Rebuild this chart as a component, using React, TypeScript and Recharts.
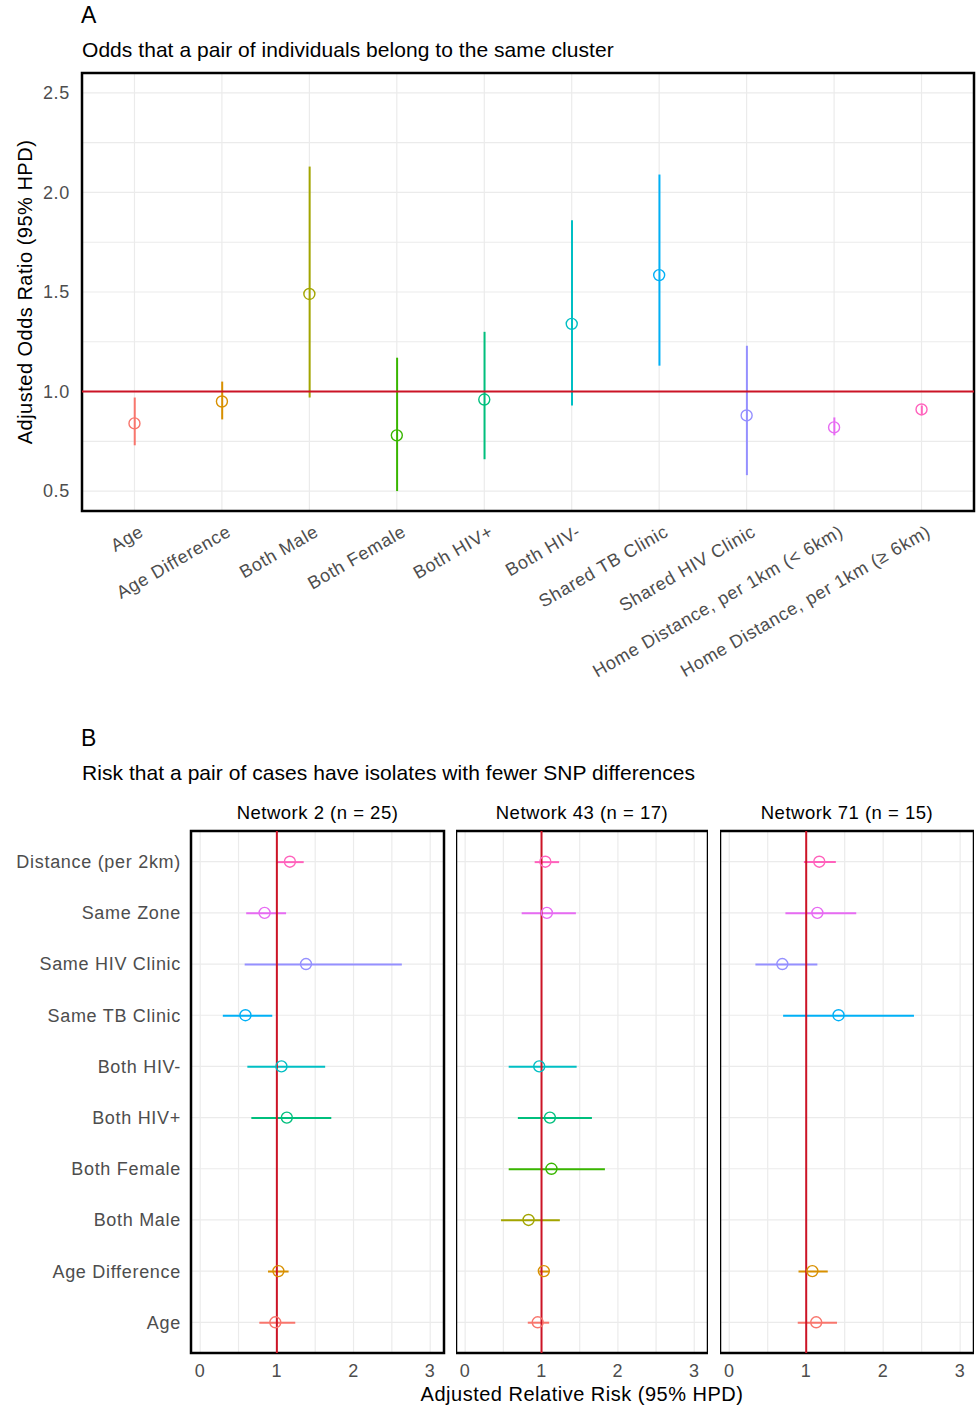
import React from 'react';
import {
  ComposedChart,
  Bar,
  Line,
  Cell,
  XAxis,
  YAxis,
  CartesianGrid,
  ReferenceLine,
  ReferenceArea,
} from 'recharts';

const FONT = '"Liberation Sans", Arial, Helvetica, sans-serif';
const RED = '#cc1426';
const GRID = '#ebebeb';
const TICK = '#4d4d4d';

// Panel A: odds of belonging to the same cluster
const clusterTerms = [
  'Age',
  'Age Difference',
  'Both Male',
  'Both Female',
  'Both HIV+',
  'Both HIV-',
  'Shared TB Clinic',
  'Shared HIV Clinic',
  'Home Distance, per 1km (< 6km)',
  'Home Distance, per 1km (≥ 6km)',
];
const clusterColors = ['#F8766D', '#D89000', '#A3A500', '#39B600', '#00BF7D', '#00BFC4', '#00B0F6', '#9590FF', '#E76BF3', '#FF62BC'];
const clusterOR = [0.84, 0.95, 1.49, 0.78, 0.96, 1.34, 1.585, 0.88, 0.82, 0.91];
const clusterLo = [0.73, 0.86, 0.97, 0.5, 0.66, 0.93, 1.13, 0.58, 0.78, 0.885];
const clusterHi = [0.97, 1.05, 2.13, 1.17, 1.3, 1.86, 2.09, 1.23, 0.87, 0.93];
const oddsTicks = [0.5, 0.75, 1, 1.25, 1.5, 1.75, 2, 2.25, 2.5];

// Panel B: relative risk of fewer SNP differences, one facet per network
const snpTerms = [
  'Distance (per 2km)',
  'Same Zone',
  'Same HIV Clinic',
  'Same TB Clinic',
  'Both HIV-',
  'Both HIV+',
  'Both Female',
  'Both Male',
  'Age Difference',
  'Age',
];
const snpColors = ['#FF62BC', '#E76BF3', '#9590FF', '#00B0F6', '#00BFC4', '#00BF7D', '#39B600', '#A3A500', '#D89000', '#F8766D'];
const net2RR = [1.17, 0.84, 1.38, 0.59, 1.06, 1.13, null, null, 1.02, 0.98];
const net2Lo = [1.0, 0.6, 0.58, 0.295, 0.615, 0.667, null, null, 0.884, 0.771];
const net2Hi = [1.35, 1.12, 2.63, 0.94, 1.63, 1.71, null, null, 1.153, 1.24];
const net43RR = [1.05, 1.07, null, null, 0.97, 1.11, 1.13, 0.83, 1.03, 0.95];
const net43Lo = [0.91, 0.74, null, null, 0.57, 0.69, 0.57, 0.47, 0.97, 0.82];
const net43Hi = [1.23, 1.45, null, null, 1.46, 1.66, 1.83, 1.24, 1.1, 1.1];
const net71RR = [1.17, 1.145, 0.69, 1.42, null, null, null, null, 1.08, 1.13];
const net71Lo = [0.97, 0.73, 0.34, 0.7, null, null, null, null, 0.9, 0.89];
const net71Hi = [1.385, 1.65, 1.145, 2.4, null, null, null, null, 1.28, 1.4];
const networkTitles = ['Network 2 (n = 25)', 'Network 43 (n = 17)', 'Network 71 (n = 15)'];
const rrTicks = [0, 0.5, 1, 1.5, 2, 2.5, 3];

// discrete positions 1..10, with ggplot's 0.6 expansion on either side
const slots = clusterTerms.map((_, i) => i + 1);
const slotDomain = [0.4, 10.6];

type Row = { pos: number; name: string; est: number | null; range: [number, number] | null };

const makeRows = (names: string[], est: (number | null)[], lo: (number | null)[], hi: (number | null)[]): Row[] =>
  names.map((name, i) => ({
    pos: i + 1,
    name,
    est: est[i],
    range: lo[i] == null || hi[i] == null ? null : [lo[i] as number, hi[i] as number],
  }));

const clusterRows = makeRows(clusterTerms, clusterOR, clusterLo, clusterHi);
const networkRows = [
  makeRows(snpTerms, net2RR, net2Lo, net2Hi),
  makeRows(snpTerms, net43RR, net43Lo, net43Hi),
  makeRows(snpTerms, net71RR, net71Lo, net71Hi),
];

const ringDot = (colors: string[]) => (props: any) => {
  const { cx, cy, index, payload } = props;
  if (payload == null || payload.est == null || cx == null || cy == null) return <g key={`e${index}`} />;
  return <circle key={`c${index}`} cx={cx} cy={cy} r={5.5} fill="none" stroke={colors[payload.pos - 1]} strokeWidth={1.4} />;
};

const SlantTick = (props: any) => {
  const { x, y, payload } = props;
  const ax = x + 4;
  return (
    <text
      x={ax}
      y={y}
      dy="0.71em"
      textAnchor="end"
      transform={`rotate(-30, ${ax}, ${y})`}
      fill={TICK}
      fontSize={18}
      fontFamily={FONT}
      letterSpacing={0.7}
    >
      {clusterTerms[payload.value - 1]}
    </text>
  );
};

const tickStyle = { fill: TICK, fontSize: 18, fontFamily: FONT, letterSpacing: 0.7 };

const ClusterChart = () => (
  <ComposedChart width={977} height={700} data={clusterRows} margin={{ top: 73, right: 3, left: 20, bottom: 19 }}>
    <CartesianGrid stroke={GRID} strokeWidth={1.2} />
    <XAxis
      dataKey="pos"
      type="number"
      domain={slotDomain}
      allowDataOverflow
      ticks={slots}
      interval={0}
      tickLine={false}
      axisLine={false}
      height={170}
      tickMargin={7}
      tick={<SlantTick />}
    />
    <YAxis
      type="number"
      domain={[0.4, 2.6]}
      allowDataOverflow
      ticks={oddsTicks}
      interval={0}
      tickFormatter={(v: number) => ((v * 2) % 1 === 0 ? v.toFixed(1) : '')}
      width={62}
      tickLine={false}
      axisLine={false}
      tickMargin={6}
      tick={tickStyle}
    />
    <Bar dataKey="range" barSize={2} isAnimationActive={false}>
      {clusterRows.map((r, i) => (
        <Cell key={r.name} fill={clusterColors[i]} />
      ))}
    </Bar>
    <ReferenceLine y={1} stroke={RED} strokeWidth={2} />
    <Line dataKey="est" stroke="none" dot={ringDot(clusterColors)} activeDot={false} isAnimationActive={false} />
    <ReferenceArea y1={0.4} y2={2.6} fill="none" stroke="#000" strokeWidth={2.5} />
  </ComposedChart>
);

const NetworkChart = ({ rows, showLabels, width, right }: { rows: Row[]; showLabels: boolean; width: number; right: number }) => (
  <ComposedChart
    layout="vertical"
    width={width}
    height={618}
    data={rows}
    margin={{ top: 41, right, left: 0, bottom: 25 }}
  >
    <CartesianGrid stroke={GRID} strokeWidth={1.2} />
    <XAxis
      type="number"
      domain={[-0.12, 3.18]}
      allowDataOverflow
      ticks={rrTicks}
      interval={0}
      tickFormatter={(v: number) => (Number.isInteger(v) ? String(v) : '')}
      tickLine={false}
      axisLine={false}
      height={30}
      tickMargin={5}
      tick={tickStyle}
    />
    <YAxis
      type="number"
      dataKey="pos"
      domain={slotDomain}
      allowDataOverflow
      ticks={slots}
      interval={0}
      tickFormatter={(v: number) => snpTerms[v - 1]}
      width={191}
      hide={!showLabels}
      tickLine={false}
      axisLine={false}
      tickMargin={4}
      tick={tickStyle}
    />
    <Bar dataKey="range" barSize={2} isAnimationActive={false}>
      {rows.map((r, i) => (
        <Cell key={r.name} fill={snpColors[i]} />
      ))}
    </Bar>
    <ReferenceLine x={1} stroke={RED} strokeWidth={2} />
    <Line dataKey="est" stroke="none" dot={ringDot(snpColors)} activeDot={false} isAnimationActive={false} />
    <ReferenceArea x1={-0.12} x2={3.18} fill="none" stroke="#000" strokeWidth={2.5} />
  </ComposedChart>
);

const text = (extra: React.CSSProperties): React.CSSProperties => ({
  position: 'absolute',
  fontFamily: FONT,
  color: '#000',
  whiteSpace: 'nowrap',
  lineHeight: 1,
  ...extra,
});

const facetLeft = [0, 456, 720];
const facetWidth = [446, 252, 254];
const facetCenter = [317.5, 582, 847];

export default function App() {
  return (
    <div style={{ position: 'absolute', left: 0, top: 0, width: 977, height: 1408, background: '#fff', overflow: 'hidden' }}>
      <div style={text({ left: 81, top: 4, fontSize: 23 })}>A</div>
      <div style={text({ left: 82, top: 39, fontSize: 21, letterSpacing: 0.05 })}>
        Odds that a pair of individuals belong to the same cluster
      </div>
      <div style={{ position: 'absolute', left: 0, top: 0 }}>
        <ClusterChart />
      </div>
      <div
        style={text({
          left: 25,
          top: 292,
          fontSize: 20,
          letterSpacing: 0.5,
          transform: 'translate(-50%, -50%) rotate(-90deg)',
        })}
      >
        Adjusted Odds Ratio (95% HPD)
      </div>

      <div style={text({ left: 81, top: 727, fontSize: 23 })}>B</div>
      <div style={text({ left: 82, top: 762, fontSize: 21, letterSpacing: 0.05 })}>
        Risk that a pair of cases have isolates with fewer SNP differences
      </div>
      {networkRows.map((rows, k) => (
        <React.Fragment key={networkTitles[k]}>
          <div style={{ position: 'absolute', left: facetLeft[k], top: 790 }}>
            <NetworkChart rows={rows} showLabels={k === 0} width={facetWidth[k]} right={k === 0 ? 2 : 0} />
          </div>
          <div style={text({ left: facetCenter[k], top: 813, fontSize: 18.5, letterSpacing: 0.5, transform: 'translate(-50%, -50%)' })}>
            {networkTitles[k]}
          </div>
        </React.Fragment>
      ))}
      <div style={text({ left: 582, top: 1394, fontSize: 20, letterSpacing: 0.5, transform: 'translate(-50%, -50%)' })}>
        Adjusted Relative Risk (95% HPD)
      </div>
    </div>
  );
}
